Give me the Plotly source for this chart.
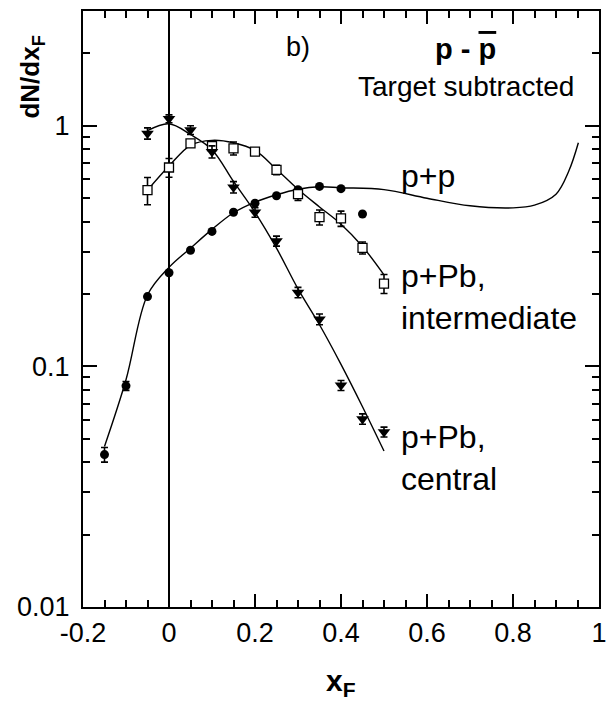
import math
import plotly.graph_objects as go

# ---- measured points ----
# p+p
pp_x = [-0.15, -0.10, -0.05, 0.00, 0.05, 0.10, 0.15, 0.20, 0.25, 0.30, 0.35, 0.40, 0.45]
pp_y = [0.043, 0.083, 0.195, 0.245, 0.304, 0.364, 0.437, 0.477, 0.512, 0.542, 0.560, 0.548, 0.430]
pp_err = [0.003, 0.0035, 0, 0, 0, 0, 0, 0, 0, 0, 0, 0, 0]

# p+Pb, intermediate
pbi_x = [-0.05, 0.00, 0.05, 0.10, 0.15, 0.20, 0.25, 0.30, 0.35, 0.40, 0.45, 0.50]
pbi_y = [0.540, 0.671, 0.845, 0.824, 0.806, 0.781, 0.656, 0.520, 0.417, 0.412, 0.311, 0.221]
pbi_err = [0.07, 0.06, 0.03, 0.035, 0.05, 0.02, 0.03, 0.03, 0.03, 0.03, 0.018, 0.02]

# p+Pb, central
pbc_x = [-0.05, 0.00, 0.05, 0.10, 0.15, 0.20, 0.25, 0.30, 0.35, 0.40, 0.45, 0.50]
pbc_y = [0.93, 1.07, 0.96, 0.78, 0.556, 0.437, 0.332, 0.203, 0.157, 0.0834, 0.0605, 0.0534]
pbc_err = [0.05, 0.04, 0.04, 0.045, 0.03, 0.02, 0.016, 0.01, 0.008, 0.004, 0.003, 0.0025]

# ---- fitted curves ----
pp_fit_x = [-0.15, -0.10, -0.05, 0.00, 0.05, 0.10, 0.15, 0.20, 0.25, 0.30, 0.35, 0.40,
            0.50, 0.60, 0.70, 0.80, 0.85, 0.90, 0.93, 0.952]
pp_fit_y = [0.0465, 0.088, 0.198, 0.258, 0.310, 0.371, 0.435, 0.482, 0.517, 0.545, 0.558, 0.553,
            0.543, 0.500, 0.465, 0.456, 0.468, 0.520, 0.650, 0.850]

pbi_fit_x = [-0.05, 0.00, 0.05, 0.10, 0.15, 0.20, 0.25, 0.30, 0.35, 0.40, 0.45, 0.50]
pbi_fit_y = [0.540, 0.680, 0.830, 0.870, 0.850, 0.790, 0.660, 0.545, 0.460, 0.390, 0.315, 0.240]

pbc_fit_x = [-0.05, 0.00, 0.05, 0.10, 0.15, 0.20, 0.25, 0.30, 0.35, 0.40, 0.45, 0.50]
pbc_fit_y = [0.955, 1.020, 0.920, 0.796, 0.587, 0.437, 0.310, 0.210, 0.149, 0.102, 0.068, 0.0445]

# ---- axis ticks ----
x_tick_vals = [-0.2, 0.0, 0.2, 0.4, 0.6, 0.8, 1.0]
x_tick_text = ["-0.2", "0", "0.2", "0.4", "0.6", "0.8", "1"]
y_tick_vals = [0.01, 0.1, 1]
y_tick_text = ["0.01", "0.1", "1"]

FONT = "Liberation Sans, Arial, Helvetica, sans-serif"
INK = "black"

fig = go.Figure()

line_style = dict(color=INK, width=1.4, shape="spline", smoothing=1.0)
for fx, fy in [(pp_fit_x, pp_fit_y), (pbi_fit_x, pbi_fit_y), (pbc_fit_x, pbc_fit_y)]:
    fig.add_trace(go.Scatter(x=fx, y=fy, mode="lines", line=line_style,
                             hoverinfo="skip", showlegend=False))

err_style = dict(type="data", color=INK, thickness=1.6, width=3.5)

fig.add_trace(go.Scatter(
    x=pp_x, y=pp_y, mode="markers", name="p+p",
    marker=dict(symbol="circle", size=9, color=INK),
    error_y=dict(array=pp_err, **err_style), showlegend=False))

fig.add_trace(go.Scatter(
    x=pbi_x, y=pbi_y, mode="markers", name="p+Pb, intermediate",
    marker=dict(symbol="square", size=9, color="white", line=dict(color=INK, width=1.3)),
    error_y=dict(array=pbi_err, **err_style), showlegend=False))

fig.add_trace(go.Scatter(
    x=pbc_x, y=pbc_y, mode="markers", name="p+Pb, central",
    marker=dict(symbol="triangle-down", size=11, color=INK),
    error_y=dict(array=pbc_err, **err_style), showlegend=False))

axis_common = dict(
    showline=True, linecolor=INK, linewidth=2, mirror="ticks",
    ticks="inside", tickcolor=INK, tickwidth=2, showgrid=False,
    tickfont=dict(family=FONT, size=27, color=INK),
)

fig.update_xaxes(
    range=[-0.2, 1.0], tickmode="array", tickvals=x_tick_vals, ticktext=x_tick_text,
    ticklen=13, ticklabelstandoff=1,
    zeroline=True, zerolinecolor=INK, zerolinewidth=2,
    minor=dict(dtick=0.05, tick0=0, ticks="inside", ticklen=7, tickwidth=2, tickcolor=INK),
    **axis_common)

fig.update_yaxes(
    type="log", range=[-2, math.log10(3)], tickmode="array",
    tickvals=y_tick_vals, ticktext=y_tick_text,
    ticklen=14, ticklabelstandoff=6,
    minor=dict(dtick="D1", ticks="inside", ticklen=7, tickwidth=2, tickcolor=INK),
    **axis_common)

def note(text, x, y, size, xanchor="center"):
    fig.add_annotation(text=text, x=x, y=math.log10(y), xref="x", yref="y",
                       xanchor=xanchor, yanchor="middle", showarrow=False, align="left",
                       font=dict(family=FONT, size=size, color=INK))

note("b)", 0.30, 2.12, 27)
note("<b>p - <span style='text-decoration:overline'>p</span></b>", 0.69, 2.08, 29)
note("Target subtracted", 0.69, 1.46, 28)
note("p+p", 0.535, 0.616, 32, xanchor="left")
note("p+Pb,<br>intermediate", 0.535, 0.195, 32, xanchor="left")
note("p+Pb,<br>central", 0.535, 0.0418, 32, xanchor="left")

# axis titles
fig.add_annotation(text="<b>dN/dx<sub>F</sub></b>", x=-0.1, y=0.889, xref="paper", yref="paper",
                   textangle=-90, showarrow=False, xanchor="center", yanchor="middle",
                   font=dict(family=FONT, size=26, color=INK))
fig.add_annotation(text="<b>x<sub>F</sub></b>", x=0.5, y=-0.126, xref="paper", yref="paper",
                   showarrow=False, xanchor="center", yanchor="middle",
                   font=dict(family=FONT, size=30, color=INK))

fig.update_layout(
    width=616, height=704,
    margin=dict(l=83, r=9, t=10, b=97),
    paper_bgcolor="white", plot_bgcolor="white",
    showlegend=False,
)

fig.write_html("out.html")
